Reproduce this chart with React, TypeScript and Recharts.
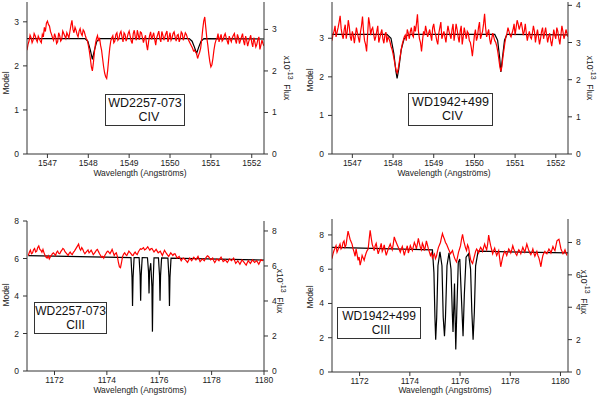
import React from 'react';
import { LineChart, Line, XAxis, YAxis } from 'recharts';

const FONT = '"Liberation Sans", Arial, Helvetica, sans-serif';

// ---- WD2257-073, C IV ----
const civ2257ModelWave = [1546.5, 1547.92, 1547.99, 1548.05, 1548.1, 1548.15, 1548.21, 1548.28, 1550.47, 1550.54, 1550.6, 1550.65, 1550.7, 1550.76, 1550.83, 1552.3];
const civ2257Model = [2.62, 2.62, 2.56, 2.36, 2.15, 2.36, 2.56, 2.62, 2.62, 2.56, 2.42, 2.28, 2.42, 2.56, 2.62, 2.61];
const civ2257FluxStart = 1546.5;
const civ2257FluxStep = 0.025;
const civ2257Flux = [
  2.5, 2.64, 2.72, 2.86, 2.8, 2.68, 2.74, 2.9, 2.85, 2.76, 2.7, 2.84, 2.78, 2.72, 2.68, 2.88, 2.82, 3.05, 2.95, 3.15,
  3.2, 3.12, 3.08, 2.95, 2.88, 2.8, 2.74, 2.9, 2.82, 2.66, 2.7, 2.92, 2.85, 2.72, 2.76, 2.96, 2.9, 2.84, 2.78, 2.92,
  2.86, 2.8, 2.95, 3.1, 3.22, 3.0, 2.92, 3.05, 2.98, 2.88, 2.82, 2.96, 3.02, 2.9, 2.85, 2.99, 2.95, 2.86, 2.78, 2.74,
  2.62, 2.48, 2.3, 2.1, 2.0, 2.2, 2.45, 2.65, 2.78, 2.85, 2.72, 2.8, 2.62, 2.5, 2.3, 2.1, 1.95, 1.86, 1.82, 2.02,
  2.3, 2.55, 2.72, 2.8, 2.85, 2.68, 2.72, 2.88, 2.92, 2.74, 2.78, 2.9, 2.95, 2.82, 2.7, 2.92, 2.88, 2.72, 2.8, 2.9,
  2.96, 2.84, 2.72, 2.66, 2.9, 2.98, 2.82, 2.74, 2.98, 2.86, 2.75, 2.94, 2.92, 2.8, 2.68, 2.78, 2.86, 2.64, 2.5, 2.7,
  2.85, 2.94, 2.76, 2.84, 2.92, 2.76, 2.62, 2.8, 2.88, 2.96, 2.78, 2.7, 2.95, 2.86, 2.74, 2.82, 2.9, 2.96, 2.7, 2.8,
  2.92, 2.74, 2.8, 2.9, 2.94, 2.82, 2.72, 2.86, 2.88, 2.7, 2.78, 2.94, 2.9, 2.74, 2.82, 2.92, 2.88, 2.8, 2.75, 2.7,
  2.65, 2.6, 2.55, 2.48, 2.5, 2.46, 2.42, 2.3, 2.38, 2.45, 2.55, 2.75, 3.0, 3.2, 3.3, 3.05, 2.8, 2.62, 2.4, 2.22,
  2.1, 2.15, 2.3, 2.5, 2.65, 2.74, 2.78, 2.9, 2.7, 2.8, 2.88, 2.72, 2.76, 2.84, 2.9, 2.8, 2.72, 2.64, 2.84, 2.76,
  2.7, 2.8, 2.86, 2.9, 2.74, 2.66, 2.88, 2.8, 2.66, 2.74, 2.82, 2.9, 2.72, 2.62, 2.84, 2.74, 2.6, 2.7, 2.78, 2.86,
  2.68, 2.58, 2.8, 2.7, 2.58, 2.64, 2.76, 2.82, 2.52, 2.62, 2.74, 2.66, 2.6,
];

// ---- WD1942+499, C IV ----
const civ1942ModelWave = [1546.5, 1547.85, 1547.95, 1548.02, 1548.07, 1548.1, 1548.14, 1548.2, 1548.27, 1548.35, 1548.45, 1550.5, 1550.57, 1550.62, 1550.65, 1550.69, 1550.74, 1550.8, 1552.3];
const civ1942Model = [3.1, 3.1, 3.0, 2.6, 2.15, 1.96, 2.2, 2.7, 2.98, 3.08, 3.1, 3.1, 2.95, 2.5, 2.13, 2.5, 2.95, 3.1, 3.09];
const civ1942FluxStart = 1546.5;
const civ1942FluxStep = 0.025;
const civ1942Flux = [
  3.05, 3.22, 3.3, 3.45, 3.15, 3.28, 3.4, 3.55, 3.72, 3.38, 3.2, 3.1, 3.35, 3.48, 3.1, 3.3, 3.6, 3.42, 3.15, 3.05,
  3.3, 3.18, 2.98, 3.2, 3.4, 3.25, 3.12, 3.0, 3.28, 3.45, 3.7, 3.3, 3.05, 2.95, 2.76, 3.2, 3.68, 3.5, 3.2, 3.35,
  3.4, 3.22, 3.05, 3.15, 3.3, 3.45, 3.0, 3.12, 3.25, 3.35, 3.1, 2.98, 3.2, 3.28, 3.0, 3.15, 3.1, 3.02, 2.9, 2.82,
  2.7, 2.55, 2.4, 2.25, 2.18, 2.28, 2.45, 2.62, 2.8, 2.95, 3.05, 3.15, 3.2, 3.05, 3.35, 3.25, 3.1, 3.3, 3.4, 3.2,
  3.15, 3.45, 3.3, 3.5, 3.76, 3.3, 3.1, 3.0, 2.76, 3.05, 3.3, 3.2, 3.45, 3.3, 3.15, 3.25, 3.35, 3.2, 3.05, 3.4,
  3.5, 3.3, 3.2, 3.05, 2.95, 3.25, 3.4, 3.55, 3.1, 3.2, 3.3, 3.15, 3.0, 3.25, 3.45, 3.3, 3.2, 3.1, 3.35, 3.5,
  3.05, 3.25, 3.5, 3.35, 3.15, 3.0, 3.3, 3.45, 2.95, 3.15, 3.4, 3.25, 3.1, 3.3, 3.25, 3.05, 3.0, 2.85, 2.63, 2.9,
  3.2, 3.35, 3.05, 3.15, 3.4, 3.55, 3.1, 3.2, 3.3, 3.5, 3.77, 3.4, 3.15, 3.25, 3.35, 3.1, 2.95, 3.1, 3.25, 3.15,
  3.05, 3.0, 2.9, 2.75, 2.55, 2.35, 2.22, 2.35, 2.6, 2.8, 3.0, 3.15, 3.25, 3.4, 3.3, 3.2, 3.15, 3.25, 3.35, 3.5,
  3.2, 3.4, 3.6, 3.5, 3.35, 3.45, 3.55, 3.4, 3.2, 3.3, 3.5, 3.25, 3.05, 3.2, 3.3, 3.15, 3.1, 3.25, 3.45, 3.3,
  3.0, 3.2, 3.35, 3.15, 2.95, 3.1, 3.3, 3.4, 3.1, 3.25, 3.4, 3.2, 3.0, 3.15, 3.25, 3.05, 2.9, 3.1, 3.35, 3.2,
  3.1, 3.4, 3.3, 3.1, 2.95, 3.2, 3.45, 3.3, 3.1, 3.2, 3.35, 3.25, 3.15,
];

// ---- WD2257-073, C III ----
const ciii2257ModelWave = [1171, 1174.92, 1174.96, 1174.98, 1175.0, 1175.04, 1175.23, 1175.27, 1175.29, 1175.31, 1175.35, 1175.55, 1175.59, 1175.61, 1175.63, 1175.675, 1175.72, 1175.74, 1175.76, 1175.8, 1175.97, 1176.01, 1176.03, 1176.05, 1176.09, 1176.33, 1176.37, 1176.39, 1176.41, 1176.45, 1180];
const ciii2257Model = [6.15, 6.05, 5.0, 3.47, 5.0, 6.05, 6.05, 5.1, 3.75, 5.1, 6.05, 6.04, 5.3, 4.14, 5.3, 5.75, 4.5, 2.1, 4.5, 6.04, 6.03, 5.1, 3.75, 5.1, 6.03, 6.02, 5.0, 3.47, 5.0, 6.02, 5.92];
const ciii2257FluxStart = 1171;
const ciii2257FluxStep = 0.04;
const ciii2257Flux = [
  6.6, 6.78, 6.9, 6.7, 6.75, 6.92, 7.0, 6.8, 6.85, 7.05, 7.15, 6.95, 6.9, 6.78, 6.95, 6.75, 6.6, 6.5, 6.45, 6.58,
  6.4, 6.52, 6.6, 6.7, 6.75, 6.68, 6.6, 6.78, 6.85, 6.72, 6.7, 6.82, 6.9, 7.0, 6.95, 6.82, 6.75, 6.68, 6.6, 6.72,
  6.8, 6.7, 6.65, 6.78, 6.85, 6.95, 7.05, 7.15, 7.25, 7.0, 6.9, 7.05, 6.95, 6.8, 6.7, 6.78, 6.85, 6.92, 6.75, 6.82,
  6.9, 6.78, 6.65, 6.72, 6.8, 6.9, 6.95, 6.82, 6.7, 6.6, 6.5, 6.55, 6.45, 6.6, 6.7, 6.8, 6.85, 6.78, 6.7, 6.82,
  6.95, 6.78, 6.6, 6.7, 6.75, 6.55, 6.2, 5.95, 5.9, 6.2, 6.55, 6.68, 6.75, 6.65, 6.6, 6.72, 6.85, 6.78, 6.7, 6.62,
  6.6, 6.72, 6.8, 6.7, 6.65, 6.8, 6.9, 6.98, 6.95, 7.0, 7.05, 6.92, 6.95, 7.02, 7.1, 7.0, 6.9, 6.98, 7.0, 6.9,
  6.8, 6.88, 6.95, 6.85, 6.75, 6.8, 6.85, 6.72, 6.6, 6.75, 6.9, 6.8, 6.7, 6.62, 6.55, 6.65, 6.75, 6.68, 6.6, 6.68,
  6.7, 6.58, 6.45, 6.5, 6.55, 6.42, 6.3, 6.4, 6.45, 6.4, 6.35, 6.28, 6.2, 6.32, 6.45, 6.38, 6.3, 6.42, 6.5, 6.42,
  6.35, 6.45, 6.55, 6.4, 6.25, 6.32, 6.4, 6.35, 6.3, 6.42, 6.5, 6.58, 6.55, 6.45, 6.35, 6.4, 6.45, 6.3, 6.2, 6.3,
  6.4, 6.35, 6.3, 6.42, 6.5, 6.38, 6.25, 6.3, 6.35, 6.28, 6.2, 6.3, 6.4, 6.35, 6.3, 6.38, 6.45, 6.3, 6.15, 6.22,
  6.3, 6.2, 6.1, 6.22, 6.35, 6.28, 6.2, 6.12, 6.05, 6.18, 6.3, 6.22, 6.15, 6.25, 6.35, 6.28, 6.2, 6.25, 6.3, 6.2,
  6.1, 6.22, 6.35, 6.32, 6.3,
];

// ---- WD1942+499, C III ----
const ciii1942ModelWave = [1170.9, 1174.9, 1174.96, 1175.0, 1175.03, 1175.07, 1175.12, 1175.2, 1175.28, 1175.33, 1175.38, 1175.42, 1175.48, 1175.56, 1175.64, 1175.69, 1175.72, 1175.76, 1175.78, 1175.8, 1175.83, 1175.87, 1175.93, 1175.99, 1176.05, 1176.12, 1176.17, 1176.24, 1176.34, 1176.42, 1176.47, 1176.52, 1176.57, 1176.62, 1176.72, 1180.3];
const ciii1942Model = [7.27, 7.13, 5.8, 3.2, 1.89, 3.2, 6.2, 7.02, 6.2, 3.2, 2.09, 3.2, 6.2, 6.95, 6.0, 3.5, 2.34, 4.2, 5.17, 3.5, 1.31, 3.5, 6.4, 6.6, 4.5, 2.09, 4.5, 6.7, 6.9, 6.0, 3.5, 1.89, 3.5, 6.2, 7.05, 6.95];
const ciii1942FluxStart = 1170.9;
const ciii1942FluxStep = 0.04;
const ciii1942Flux = [
  7.0, 7.3, 7.5, 7.65, 7.8, 7.4, 7.55, 7.75, 7.9, 7.6, 7.7, 8.0, 8.1, 7.7, 7.85, 8.3, 8.7, 8.45, 8.2, 8.05,
  7.9, 7.6, 7.4, 7.15, 7.6, 7.25, 6.9, 7.1, 6.6, 6.85, 7.2, 7.05, 6.9, 7.15, 7.35, 7.5, 7.6, 8.2, 8.75, 8.3,
  7.9, 7.7, 7.5, 7.8, 7.95, 7.6, 7.3, 7.5, 7.7, 7.95, 7.45, 7.6, 7.85, 7.5, 7.2, 7.4, 7.6, 7.75, 7.9, 7.7,
  7.55, 7.9, 8.35, 8.15, 8.0, 7.85, 7.7, 7.55, 7.4, 7.6, 7.75, 7.5, 7.2, 7.45, 7.6, 7.8, 7.35, 7.55, 7.8, 7.65,
  7.5, 7.75, 8.0, 7.85, 7.6, 7.9, 8.25, 7.95, 7.7, 7.55, 7.95, 7.8, 7.5, 7.75, 8.1, 7.85, 7.6, 7.4, 7.2, 7.35,
  7.05, 7.2, 7.3, 7.0, 7.15, 7.45, 7.7, 7.85, 8.0, 8.3, 8.55, 8.35, 8.2, 8.0, 7.9, 7.75, 7.6, 7.45, 7.3, 7.4,
  7.5, 7.25, 7.05, 6.9, 6.8, 7.1, 7.4, 7.6, 7.8, 8.2, 8.5, 8.15, 7.9, 7.65, 7.5, 7.85, 7.7, 7.3, 6.95, 6.8,
  6.7, 6.95, 7.2, 7.45, 7.6, 7.5, 7.35, 7.55, 7.7, 7.6, 7.45, 7.7, 7.9, 7.7, 7.55, 7.9, 8.45, 8.1, 7.8, 7.55,
  7.3, 7.5, 7.65, 7.4, 7.2, 7.35, 7.5, 7.0, 6.5, 6.8, 7.1, 7.3, 7.45, 7.35, 7.2, 7.4, 7.6, 7.5, 7.35, 7.55,
  7.8, 7.6, 7.45, 7.3, 7.2, 7.4, 7.55, 7.45, 7.3, 7.5, 7.7, 7.55, 7.4, 7.65, 7.9, 7.7, 7.5, 7.35, 7.25, 7.4,
  7.6, 7.35, 7.15, 7.3, 7.45, 7.2, 7.05, 6.8, 6.5, 6.9, 7.2, 7.35, 7.45, 7.35, 7.3, 7.45, 7.6, 7.5, 7.35, 7.55,
  7.75, 7.6, 7.5, 7.8, 8.1, 8.15, 8.2, 7.9, 7.6, 7.45, 7.3, 7.4, 7.55, 7.35, 7.2,
];

const civTicks = [1547, 1548, 1549, 1550, 1551, 1552];
const ciiiTicks = [1172, 1174, 1176, 1178, 1180];

const toModel = (waves: number[], vals: number[]) => waves.map((w, i) => ({ w, m: vals[i] }));
const toFlux = (start: number, step: number, vals: number[]) =>
  vals.map((f, i) => ({ w: +(start + i * step).toFixed(3), f }));

const axisStroke = '#333';
const tickStyle = { fontSize: 8.5, fill: '#222', fontFamily: FONT };

interface PanelProps {
  x: number; y: number; w: number; h: number;
  top: number; leftW: number; rightW: number; xH: number;
  xDomain: number[]; xTicks: number[];
  leftDomain: number[]; leftTicks: number[];
  rightDomain: number[]; rightTicks: number[];
  model: any[]; flux: any[];
}

const Panel = (p: PanelProps) => (
  <div style={{ position: 'absolute', left: p.x, top: p.y, width: p.w, height: p.h }}>
    <LineChart width={p.w} height={p.h} margin={{ top: p.top, right: 0, bottom: 0, left: 0 }}>
      <XAxis
        dataKey="w" type="number" domain={p.xDomain} ticks={p.xTicks} allowDataOverflow
        height={p.xH} tickSize={4} tickMargin={2} interval={0}
        stroke={axisStroke} tick={tickStyle}
      />
      <YAxis
        yAxisId="m" orientation="left" width={p.leftW} domain={p.leftDomain} ticks={p.leftTicks}
        allowDataOverflow tickSize={4} tickMargin={4} interval={0} stroke={axisStroke} tick={tickStyle}
      />
      <YAxis
        yAxisId="f" orientation="right" width={p.rightW} domain={p.rightDomain} ticks={p.rightTicks}
        allowDataOverflow tickSize={4} tickMargin={4} interval={0} stroke={axisStroke} tick={tickStyle}
      />
      <Line yAxisId="m" data={p.model} dataKey="m" type="linear" stroke="#000" strokeWidth={1.2} dot={false} isAnimationActive={false} />
      <Line yAxisId="f" data={p.flux} dataKey="f" type="linear" stroke="#ff0000" strokeWidth={1.2} dot={false} isAnimationActive={false} />
    </LineChart>
  </div>
);

const labelBase: React.CSSProperties = {
  position: 'absolute', fontSize: 8.5, color: '#222', whiteSpace: 'nowrap', lineHeight: 1,
};

const ModelLabel = ({ cx, cy }: { cx: number; cy: number }) => (
  <div style={{ ...labelBase, left: cx, top: cy, transform: 'translate(-50%, -50%) rotate(-90deg)' }}>Model</div>
);

const FluxLabel = ({ cx, cy }: { cx: number; cy: number }) => (
  <div style={{ ...labelBase, left: cx, top: cy, transform: 'translate(-50%, -50%) rotate(90deg)' }}>
    x10<span style={{ fontSize: 7, position: 'relative', top: -4 }}>-13</span>&nbsp; Flux
  </div>
);

const WaveLabel = ({ cx, cy }: { cx: number; cy: number }) => (
  <div style={{ ...labelBase, left: cx, top: cy, transform: 'translate(-50%, -50%)' }}>Wavelength (Angströms)</div>
);

interface BoxProps { x: number; y: number; w: number; h: number; star: string; ion: string; shift: number; size: number }

const StarBox = ({ x, y, w, h, star, ion, shift, size }: BoxProps) => (
  <div style={{
    position: 'absolute', left: x, top: y, width: w, height: h, boxSizing: 'border-box',
    border: '1px solid #333', background: '#fff', fontSize: size, color: '#111',
    textAlign: 'center', lineHeight: '14px', paddingTop: 1, whiteSpace: 'nowrap',
  }}>
    <div>{star}</div>
    <div style={{ position: 'relative', left: shift }}>{ion}</div>
  </div>
);

export default function App() {
  return (
    <div style={{ position: 'absolute', left: 0, top: 0, width: 600, height: 396, background: '#fff', fontFamily: FONT }}>
      <Panel
        x={0} y={0} w={300} h={200} top={2} leftW={27} rightW={36} xH={46}
        xDomain={[1546.5, 1552.3]} xTicks={civTicks}
        leftDomain={[0, 3.45]} leftTicks={[0, 1, 2, 3]}
        rightDomain={[0, 3.66]} rightTicks={[0, 1, 2, 3]}
        model={toModel(civ2257ModelWave, civ2257Model)}
        flux={toFlux(civ2257FluxStart, civ2257FluxStep, civ2257Flux)}
      />
      <Panel
        x={300} y={0} w={300} h={200} top={2} leftW={32} rightW={32} xH={46}
        xDomain={[1546.5, 1552.3]} xTicks={civTicks}
        leftDomain={[0, 3.94]} leftTicks={[0, 1, 2, 3]}
        rightDomain={[0, 4.09]} rightTicks={[0, 1, 2, 3, 4]}
        model={toModel(civ1942ModelWave, civ1942Model)}
        flux={toFlux(civ1942FluxStart, civ1942FluxStep, civ1942Flux)}
      />
      <Panel
        x={0} y={200} w={300} h={196} top={21} leftW={27} rightW={36} xH={25}
        xDomain={[1170.95, 1180]} xTicks={ciiiTicks}
        leftDomain={[0, 8]} leftTicks={[0, 2, 4, 6, 8]}
        rightDomain={[0, 8.57]} rightTicks={[0, 2, 4, 6, 8]}
        model={toModel(ciii2257ModelWave, ciii2257Model)}
        flux={toFlux(ciii2257FluxStart, ciii2257FluxStep, ciii2257Flux)}
      />
      <Panel
        x={300} y={200} w={300} h={196} top={19} leftW={32} rightW={32} xH={24}
        xDomain={[1170.9, 1180.3]} xTicks={ciiiTicks}
        leftDomain={[0, 8.93]} leftTicks={[0, 2, 4, 6, 8]}
        rightDomain={[0, 9.45]} rightTicks={[0, 2, 4, 6, 8]}
        model={toModel(ciii1942ModelWave, ciii1942Model)}
        flux={toFlux(ciii1942FluxStart, ciii1942FluxStep, ciii1942Flux)}
      />

      <ModelLabel cx={6} cy={83} />
      <ModelLabel cx={310} cy={80} />
      <ModelLabel cx={6} cy={295} />
      <ModelLabel cx={310} cy={297} />

      <FluxLabel cx={287} cy={78} />
      <FluxLabel cx={590} cy={78} />
      <FluxLabel cx={280} cy={291} />
      <FluxLabel cx={584} cy={292} />

      <WaveLabel cx={140} cy={173} />
      <WaveLabel cx={444} cy={173} />
      <WaveLabel cx={140} cy={390} />
      <WaveLabel cx={445} cy={390} />

      <StarBox x={105} y={94} w={80} h={32} star="WD2257-073" ion="CIV" shift={4} size={12.5} />
      <StarBox x={408} y={93} w={85} h={33} star="WD1942+499" ion="CIV" shift={2} size={12.5} />
      <StarBox x={34} y={302} w={73} h={32} star="WD2257-073" ion="CIII" shift={5} size={12} />
      <StarBox x={337} y={307} w={84} h={32} star="WD1942+499" ion="CIII" shift={2} size={12} />
    </div>
  );
}
